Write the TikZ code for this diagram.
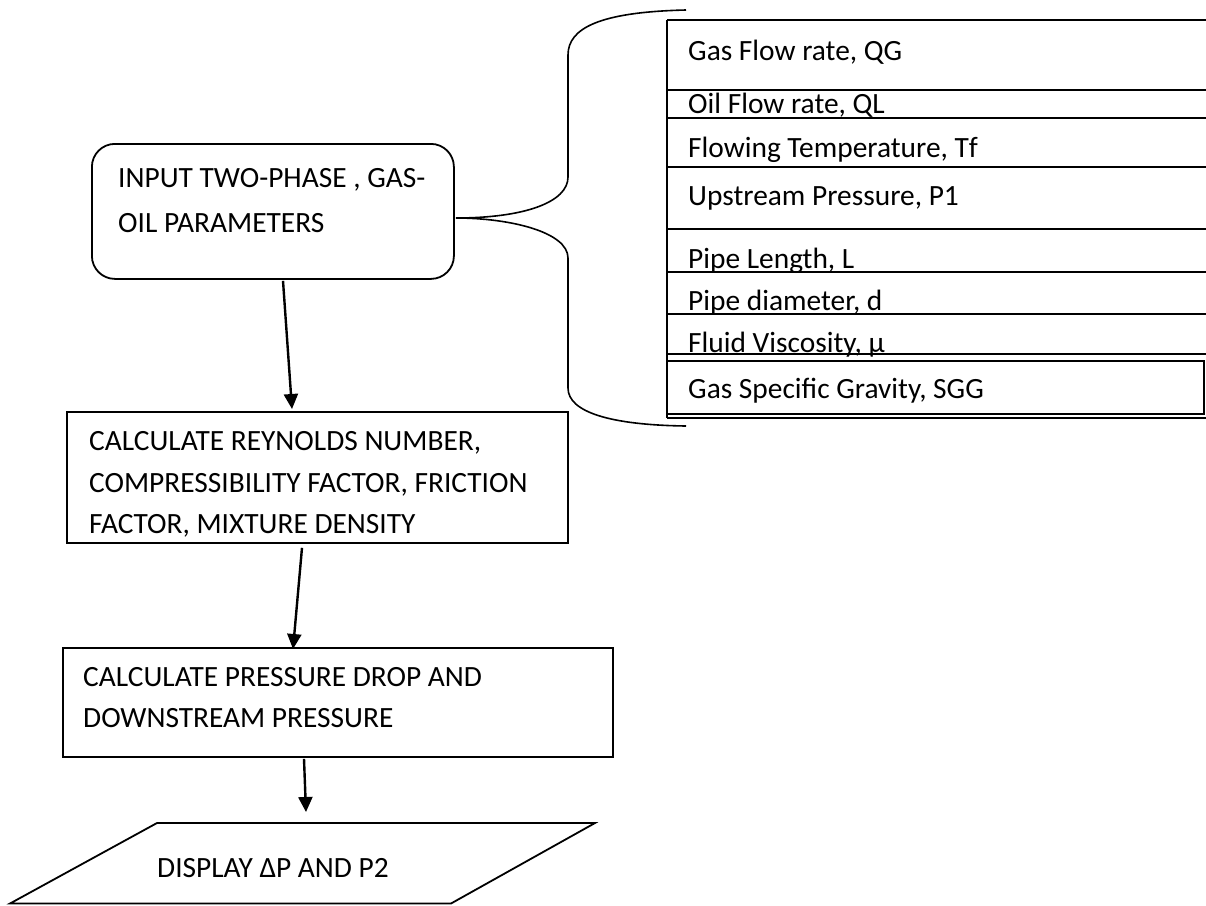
\documentclass[tikz,border=0pt]{standalone}
\usepackage{fontspec}
\setmainfont{Carlito}
\usetikzlibrary{arrows.meta,calc}
\tikzset{
  boxline/.style={draw=black, line width=1.8pt},
  tabline/.style={draw=black, line width=1.9pt},
  bracel/.style={draw=black, line width=1.6pt},
  flowarrow/.style={draw=black, line width=2.4pt, -{Triangle[width=14pt,length=15pt]}},
  txt/.style={inner sep=0pt, anchor=base west, font=\fontsize{29.4}{40}\selectfont},
  shapebox/.style={boxline, inner sep=0pt, anchor=north west},
}
\begin{document}
\begin{tikzpicture}[x=1pt,y=-1pt]
\useasboundingbox (0,0) rectangle (1206,905);
\fill[white] (0,0) rectangle (1206,905);

% Box 1 (rounded)
\node[shapebox, rounded corners=23pt, minimum width=362pt, minimum height=135pt] (b1) at (91,143) {};
\node[txt] (t1a) at (118,187) {INPUT TWO-PHASE , GAS-};
\node[txt] (t1b) at (118,232) {OIL PARAMETERS};

% Box 2
\node[shapebox, minimum width=501pt, minimum height=131pt] (b2) at (66,411) {};
\node[txt] (t2a) at (89,450) {CALCULATE REYNOLDS NUMBER,};
\node[txt] (t2b) at (89,492) {COMPRESSIBILITY FACTOR, FRICTION};
\node[txt] (t2c) at (89,533) {FACTOR, MIXTURE DENSITY};

% Box 3
\node[shapebox, minimum width=550pt, minimum height=109pt] (b3) at (62,647) {};
\node[txt] (t3a) at (83,686) {CALCULATE PRESSURE DROP AND};
\node[txt] (t3b) at (83,727) {DOWNSTREAM PRESSURE};

% Parallelogram
\coordinate (p1) at (157,823);
\coordinate (p2) at (595,823);
\coordinate (p3) at (451,903.5);
\coordinate (p4) at (10,903.5);
\draw[boxline, line join=miter] (p1) -- (p2) -- (p3) -- (p4) -- cycle;
\node[txt] (t4) at (157,877) {DISPLAY ΔP AND P2};

% Arrows
\coordinate (a1e) at (292,409);
\coordinate (a3e) at (306,812);
\draw[flowarrow] ($(b1.south west)+(192,1)$) -- (a1e);
\draw[flowarrow] ($(b2.south west)+(236,4)$) -- ($(b3.north west)+(231,2)$);
\draw[flowarrow] ($(b3.south west)+(242,1)$) -- (a3e);

% Parameter table
\draw[tabline] (667,20) -- (1206,20);
\draw[tabline] (667,20) -- (667,418);
\foreach \yy in {90,118,167,229,272,314,354}{
  \draw[tabline] (667,\yy) -- (1206,\yy);
}
\node[shapebox, line width=1.9pt, minimum width=537pt, minimum height=53pt] (sgg) at (666,360) {};
\draw[tabline] (667,418) -- (1206,418);

\node[txt] (r1) at (688,60) {Gas Flow rate, QG};
\node[txt] (r2) at (688,113) {Oil Flow rate, QL};
\node[txt] (r3) at (688,157) {Flowing Temperature, Tf};
\node[txt] (r4) at (688,205) {Upstream Pressure, P1};
\node[txt] (r5) at (688,268) {Pipe Length, L};
\node[txt] (r6) at (688,310) {Pipe diameter, d};
\node[txt] (r7) at (688,352) {Fluid Viscosity, μ};
\node[txt] (r8) at (688,398) {Gas Specific Gravity, SGG};

% Brace
\coordinate (btip) at ($(b1.north east)+(1,75)$);
\coordinate (btop) at (686,10);
\coordinate (bbot) at (686,426);
\draw[bracel] (btop) .. controls (600,12) and (568,28) .. (568,55)
  -- (568,177) .. controls (568,202) and (525,218) .. (btip)
  .. controls (510,218) and (568,232) .. (568,258)
  -- (568,388) .. controls (568,412) and (610,425) .. (bbot);
\end{tikzpicture}
\end{document}
